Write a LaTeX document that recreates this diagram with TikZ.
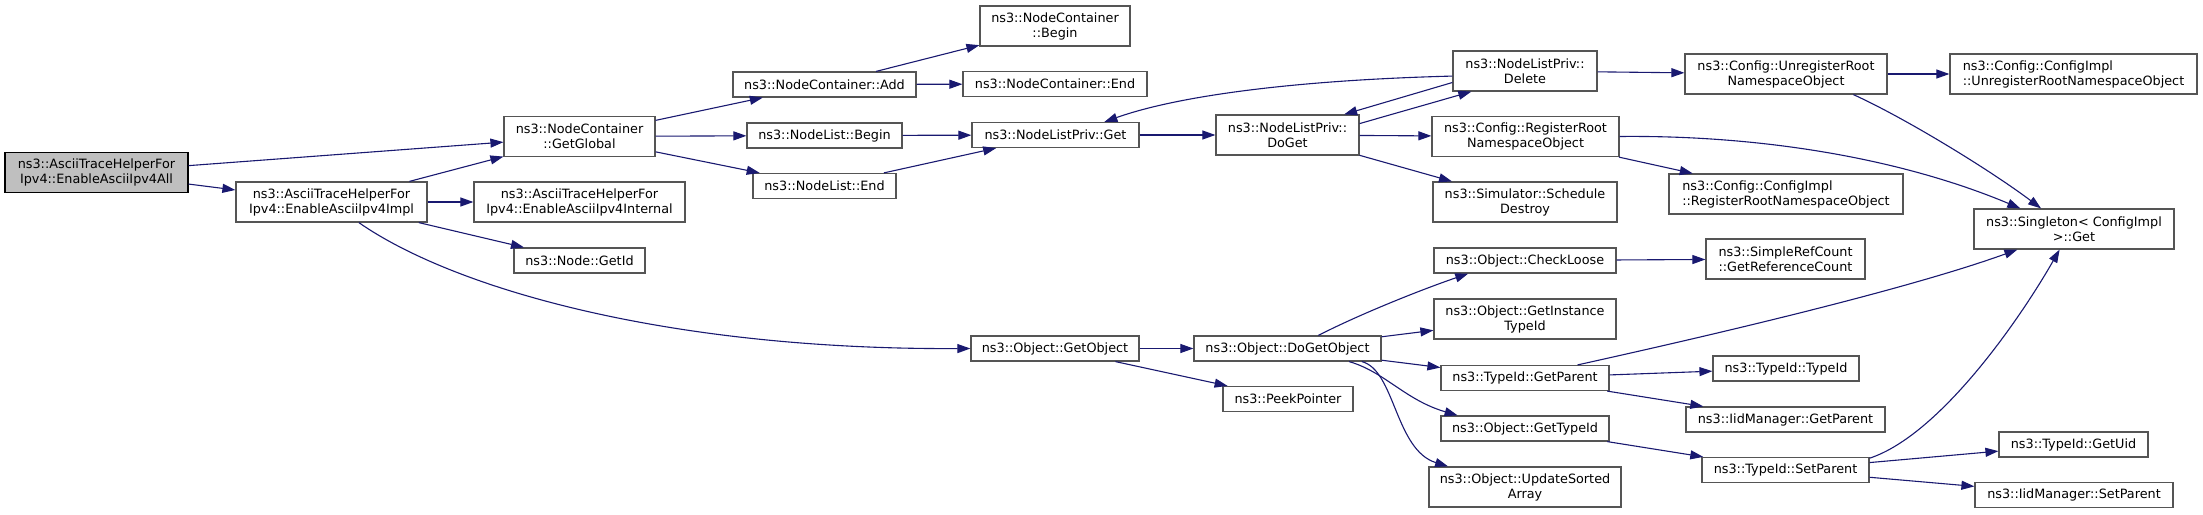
\documentclass[tikz,border=0pt]{standalone}
\usepackage{fontspec}
\setmainfont{DejaVu Sans}
\usetikzlibrary{arrows.meta, positioning}
\definecolor{edgeblue}{HTML}{191970}
\definecolor{boxgray}{HTML}{555555}
\definecolor{rootgray}{HTML}{BFBFBF}

\begin{document}
\begin{tikzpicture}[x=1pt, y=-1pt, font=\fontsize{12.8}{15}\selectfont,
    >={Triangle[length=13pt, width=9pt]},
    fn/.style={draw=boxgray, line width=1.2pt, fill=white, minimum height=25pt, inner sep=1pt, align=center},
    fn2/.style={fn, minimum height=40pt},
    call/.style={->, edgeblue, line width=1.1pt}]
    \useasboundingbox (0,0) rectangle (2203,514);

    % caller and first level
    \node[fn2, fill=rootgray, draw=black, minimum width=183pt] (root) at (96.5,172.5) {ns3::AsciiTraceHelperFor\\Ipv4::EnableAsciiIpv4All};
    \node[fn2, minimum width=191pt] (impl) at (331.5,202) {ns3::AsciiTraceHelperFor\\Ipv4::EnableAsciiIpv4Impl};
    \node[fn2, minimum width=151pt] (glob) at (579.5,136.5) {ns3::NodeContainer\\::GetGlobal};
    \node[fn2, minimum width=211pt] (intl) at (579.5,202) {ns3::AsciiTraceHelperFor\\Ipv4::EnableAsciiIpv4Internal};
    \node[fn, minimum width=131pt] (getid) at (579.5,260.5) {ns3::Node::GetId};

    \node[fn, minimum width=183pt] (add) at (824.5,84.5) {ns3::NodeContainer::Add};
    \node[fn, minimum width=155pt] (nlbeg) at (824.5,135.5) {ns3::NodeList::Begin};
    \node[fn, minimum width=143pt] (nlend) at (824.5,186) {ns3::NodeList::End};

    \node[fn2, minimum width=150pt] (ncbeg) at (1055,26) {ns3::NodeContainer\\::Begin};
    \node[fn, minimum width=184pt] (ncend) at (1055,84) {ns3::NodeContainer::End};
    \node[fn, minimum width=167pt] (pget) at (1055.5,135) {ns3::NodeListPriv::Get};
    \node[fn, minimum width=168pt] (getobj) at (1055,348.5) {ns3::Object::GetObject};

    \node[fn2, minimum width=143pt] (doget) at (1287.5,135) {ns3::NodeListPriv::\\DoGet};
    \node[fn, minimum width=187pt] (dgo) at (1287.5,348.5) {ns3::Object::DoGetObject};
    \node[fn, minimum width=130pt] (peek) at (1288,399) {ns3::PeekPointer};

    \node[fn2, minimum width=144pt] (del) at (1525,71) {ns3::NodeListPriv::\\Delete};
    \node[fn2, minimum width=187pt] (regroot) at (1525.5,136.5) {ns3::Config::RegisterRoot\\NamespaceObject};
    \node[fn2, minimum width=184pt] (sched) at (1525,202) {ns3::Simulator::Schedule\\Destroy};
    \node[fn, minimum width=182pt] (loose) at (1525,260.5) {ns3::Object::CheckLoose};
    \node[fn2, minimum width=182pt] (inst) at (1525,319) {ns3::Object::GetInstance\\TypeId};
    \node[fn, minimum width=168pt] (tpar) at (1525,378) {ns3::TypeId::GetParent};
    \node[fn, minimum width=168pt] (otid) at (1525,428.5) {ns3::Object::GetTypeId};
    \node[fn2, minimum width=192pt] (upd) at (1525,487) {ns3::Object::UpdateSorted\\Array};

    \node[fn2, minimum width=202pt] (unreg) at (1786,74) {ns3::Config::UnregisterRoot\\NamespaceObject};
    \node[fn2, minimum width=234pt, align=left] (cfgreg) at (1786,194) {ns3::Config::ConfigImpl\\::RegisterRootNamespaceObject};
    \node[fn2, minimum width=159pt] (refc) at (1785.5,259) {ns3::SimpleRefCount\\::GetReferenceCount};
    \node[fn, minimum width=146pt] (tid) at (1786,368.5) {ns3::TypeId::TypeId};
    \node[fn, minimum width=199pt] (iidget) at (1785.5,419.5) {ns3::IidManager::GetParent};
    \node[fn, minimum width=167pt] (spar) at (1785.5,470) {ns3::TypeId::SetParent};

    \node[fn2, minimum width=247pt, align=left] (cfgunreg) at (2073.5,74) {ns3::Config::ConfigImpl\\::UnregisterRootNamespaceObject};
    \node[fn2, minimum width=200pt] (single) at (2074,229) {ns3::Singleton< ConfigImpl\\>::Get};
    \node[fn, minimum width=149pt] (uid) at (2073.5,444.5) {ns3::TypeId::GetUid};
    \node[fn, minimum width=198pt] (iidset) at (2074,495) {ns3::IidManager::SetParent};

    % calls
    \draw[call] (root) -- (glob);
    \draw[call] (root) -- (impl);
    \draw[call] (impl) -- (glob);
    \draw[call] (impl) -- (intl);
    \draw[call] (impl) -- (getid);
    \draw[call] (impl.-37) .. controls (456,290) and (671,350) .. (getobj.west);
    \draw[call] (glob) -- (add);
    \draw[call] (glob) -- (nlbeg);
    \draw[call] (glob) -- (nlend);
    \draw[call] (add) -- (ncbeg);
    \draw[call] (add) -- (ncend);
    \draw[call] (nlbeg) -- (pget);
    \draw[call] (nlend) -- (pget);
    \draw[call] (pget) -- (doget);
    \draw[call] (doget.9) -- (del.201);
    \draw[call] (doget) -- (regroot);
    \draw[call] (doget) -- (sched);
    \draw[call] (del.189) -- (doget.20);
    \draw[call] (del.184) .. controls (1300,80) and (1180,95) .. (pget.15);
    \draw[call] (del) -- (unreg);
    \draw[call] (unreg) -- (cfgunreg);
    \draw[call] (unreg.-17) .. controls (1905,118) and (1990,170) .. (single.148);
    \draw[call] (regroot.east) .. controls (1760,135) and (1900,158) .. (single.159);
    \draw[call] (regroot) -- (cfgreg);
    \draw[call] (getobj) -- (dgo);
    \draw[call] (getobj) -- (peek);
    \draw[call] (dgo.23) .. controls (1360,314) and (1423,289) .. (loose.193);
    \draw[call] (dgo) -- (inst);
    \draw[call] (dgo) -- (tpar);
    \draw[call] (dgo.-12) .. controls (1385,372) and (1405,400) .. (otid.169);
    \draw[call] (dgo.-10) .. controls (1395,370) and (1395,450) .. (upd.165);
    \draw[call] (loose) -- (refc);
    \draw[call] (tpar.14) .. controls (1690,340) and (1900,292) .. (single.200);
    \draw[call] (tpar) -- (tid);
    \draw[call] (tpar) -- (iidget);
    \draw[call] (otid) -- (spar);
    \draw[call] (spar.8) .. controls (1940,435) and (2020,319) .. (single.235);
    \draw[call] (spar) -- (uid);
    \draw[call] (spar) -- (iidset);
\end{tikzpicture}
\end{document}
